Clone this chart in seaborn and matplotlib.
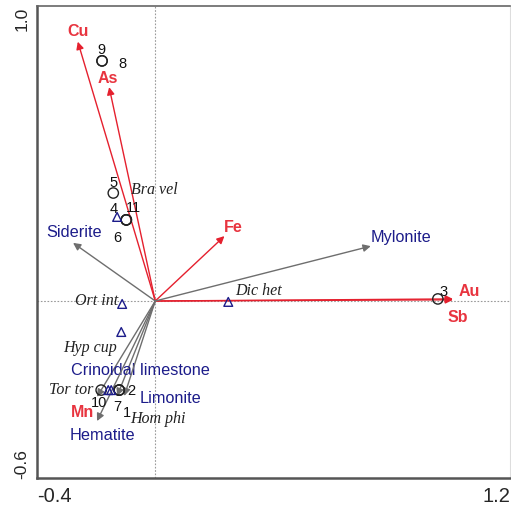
import numpy as np
import pandas as pd
import seaborn as sns
import matplotlib.pyplot as plt
import matplotlib.transforms as mtransforms

# element arrows (response variables)
elem_names = ['Cu', 'As', 'Fe', 'Au', 'Sb', 'Mn']
elem_x = [-0.262, -0.156, 0.234, 1.007, 1.007, -0.197]
elem_y = [0.879, 0.725, 0.220, 0.007, 0.004, -0.325]

# environmental arrows
env_names = ['Siderite', 'Mylonite', 'Crinoidal limestone', 'Limonite', 'Hematite']
env_x = [-0.278, 0.729, -0.129, -0.105, -0.197]
env_y = [0.197, 0.186, -0.322, -0.322, -0.407]

# sites (circles)
site_ids = ['9', '8', '5', '4', '11', '6', '3', '10', '2', '7', '1']
site_x = [-0.180, -0.180, -0.142, -0.098, -0.098, -0.098, 0.956, -0.183, -0.122, -0.122, -0.122]
site_y = [0.814, 0.814, 0.366, 0.275, 0.275, 0.275, 0.007, -0.302, -0.302, -0.302, -0.302]

# species (triangles)
spec_names = ['Bra vel', 'Ort int', 'Hyp cup', 'Dic het', 'Tor tor', 'Hom phi']
spec_x = [-0.129, -0.112, -0.115, 0.247, -0.159, -0.149]
spec_y = [0.285, -0.010, -0.105, -0.003, -0.302, -0.302]

# label offsets in pixels (dx, dy, ha)
elem_off = {'Cu': (0, 11, 'center'), 'As': (-1, 10, 'center'), 'Fe': (9, 10, 'center'),
            'Au': (16, 8, 'center'), 'Sb': (5, -17, 'center'), 'Mn': (-15, -15, 'center')}
env_off = {'Siderite': (1, 11, 'center'), 'Mylonite': (30, 10, 'center'),
           'Crinoidal limestone': (23, 26, 'center'), 'Limonite': (46, -2, 'center'),
           'Hematite': (5, -13, 'center')}
site_off = {'9': (-1, 12), '8': (20, -2), '5': (0, 11), '4': (-13, 12), '11': (7, 13),
            '6': (-9, -17), '3': (6, 8), '10': (-2, -12), '2': (12, 0), '7': (-2, -16),
            '1': (8, -22)}
spec_off = {'Bra vel': (14, 28, 'left'), 'Ort int': (-4, 4, 'right'), 'Hyp cup': (-31, -15, 'center'),
            'Dic het': (7, 12, 'left'), 'Tor tor': (-15, 1, 'right'), 'Hom phi': (19, -28, 'left')}

RED = '#e5202e'
RED_TXT = '#e8343f'
BLUE = '#1c1c8a'
GRAY = '#6e6e6e'

sns.set_style('white')
plt.rcParams['font.family'] = ['Liberation Sans', 'DejaVu Sans']

fig = plt.figure(figsize=(5.11, 5.06), dpi=100)
ax = fig.add_axes([37 / 511, 27 / 506, 473 / 511, 472 / 506])

ax.axhline(0, color='#9a9a9a', lw=0.8, ls=(0, (1.5, 1.5)), zorder=1)
ax.axvline(0, color='#9a9a9a', lw=0.8, ls=(0, (1.5, 1.5)), zorder=1)

# red element arrows (Mn arrow shows grey in the original)
for n, x, y in zip(elem_names, elem_x, elem_y):
    c = GRAY if n == 'Mn' else RED
    ax.annotate('', xy=(x, y), xytext=(0, 0),
                arrowprops=dict(arrowstyle='-|>', color=c, lw=1.0, mutation_scale=11,
                                shrinkA=0, shrinkB=0), zorder=2)
    dx, dy, ha = elem_off[n]
    ax.annotate(n, xy=(x, y), xytext=(dx, dy), textcoords='offset pixels',
                ha=ha, va='center', color=RED_TXT, fontsize=11.5, fontweight='bold')

# gray environmental arrows
for n, x, y in zip(env_names, env_x, env_y):
    ax.annotate('', xy=(x, y), xytext=(0, 0),
                arrowprops=dict(arrowstyle='-|>', color=GRAY, lw=1.0, mutation_scale=11,
                                shrinkA=0, shrinkB=0), zorder=3)
    dx, dy, ha = env_off[n]
    ax.annotate(n, xy=(x, y), xytext=(dx, dy), textcoords='offset pixels',
                ha=ha, va='center', color=BLUE, fontsize=11.7)

sites = pd.DataFrame({'id': site_ids, 'x': site_x, 'y': site_y})
spec = pd.DataFrame({'name': spec_names, 'x': spec_x, 'y': spec_y})

sns.scatterplot(data=sites, x='x', y='y', marker='o', s=55, facecolor='none',
                edgecolor='#222222', linewidth=1.0, ax=ax, zorder=4)
sns.scatterplot(data=spec, x='x', y='y', marker='^', s=40, facecolor='none',
                edgecolor=BLUE, linewidth=1.0, ax=ax, zorder=4)

for n, x, y in zip(site_ids, site_x, site_y):
    dx, dy = site_off[n]
    ax.annotate(n, xy=(x, y), xytext=(dx, dy), textcoords='offset pixels',
                ha='center', va='center', color='#111111', fontsize=10.5)

for n, x, y in zip(spec_names, spec_x, spec_y):
    dx, dy, ha = spec_off[n]
    ax.annotate(n, xy=(x, y), xytext=(dx, dy), textcoords='offset pixels',
                ha=ha, va='center', color='#222222', fontsize=11.5, fontstyle='italic',
                family='Liberation Serif')

ax.set_xlim(-0.4, 1.2)
ax.set_ylim(-0.6, 1.0)
ax.set_xlabel('')
ax.set_ylabel('')

ax.set_xticks([-0.4, 1.2])
ax.set_yticks([-0.6, 1.0])
ax.set_xticks(np.arange(-0.2, 1.2, 0.2), minor=True)
ax.set_yticks(np.arange(-0.4, 1.0, 0.2), minor=True)
ax.set_xticklabels(['-0.4', '1.2'], fontsize=14.5)
ax.set_yticklabels(['-0.6', '1.0'], fontsize=12.5, rotation=90)
xl = ax.get_xticklabels()
xl[0].set_ha('left')
xl[1].set_ha('right')
yl = ax.get_yticklabels()
yl[0].set_va('bottom')
yl[1].set_va('top')
# nudge y labels a little inward from the axis ends
yl[0].set_transform(yl[0].get_transform() + mtransforms.ScaledTranslation(0, 6 / 100, fig.dpi_scale_trans))
yl[1].set_transform(yl[1].get_transform() + mtransforms.ScaledTranslation(0, -6 / 100, fig.dpi_scale_trans))
ax.tick_params(axis='both', which='major', length=0)
ax.tick_params(axis='x', which='major', pad=5.5)
ax.tick_params(axis='y', which='major', pad=5.5)
ax.tick_params(axis='both', which='minor', direction='inout', length=5, width=1, color='#444444')

for side in ['left', 'bottom']:
    ax.spines[side].set_color('#555555')
    ax.spines[side].set_linewidth(1.8)
ax.spines['top'].set_color('#666666')
ax.spines['top'].set_linewidth(1.2)
ax.spines['right'].set_color('#dddddd')
ax.spines['right'].set_linewidth(0.8)

plt.savefig('out.png', dpi=100)
